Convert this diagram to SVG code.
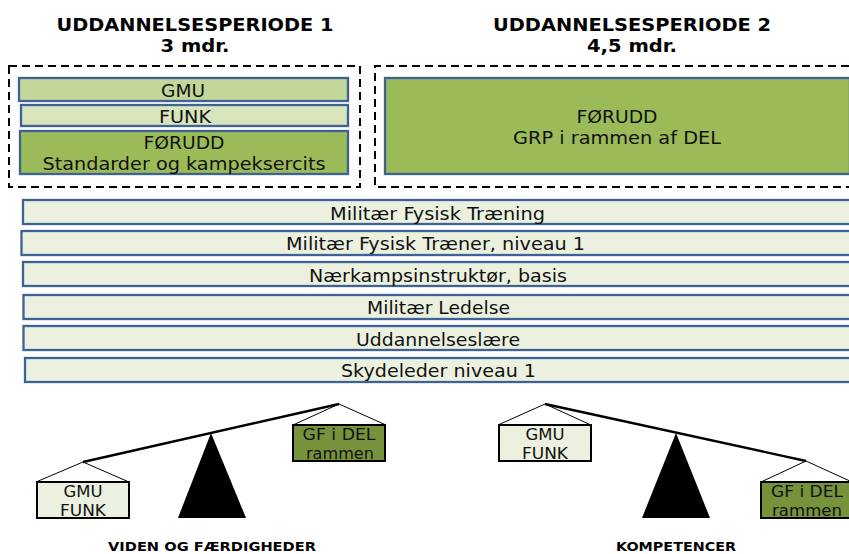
<svg xmlns="http://www.w3.org/2000/svg" width="849" height="554" viewBox="0 0 849 554">
<style>
text{font-family:"DejaVu Sans",Verdana,sans-serif;text-anchor:middle;fill:#111}
.h{font-size:18px;font-weight:bold;fill:#000}
.f{font-size:12.800px;font-weight:bold;fill:#000}
.t{font-size:17.500px}
.s{font-size:15.500px}
.b{stroke:#3f6294;stroke-width:2.300}
.bar{fill:#ebf1de}
.d{fill:none;stroke:#000;stroke-width:2;stroke-dasharray:8 5}
.k{stroke:#000;stroke-width:2}
.w{fill:none;stroke:#000;stroke-width:1}
.beam{stroke:#000;stroke-width:2.400;fill:none}
</style>
<g id="headings">
<text class="h" x="195" y="31" textLength="277" lengthAdjust="spacingAndGlyphs">UDDANNELSESPERIODE 1</text>
<text class="h" x="195" y="52" textLength="69" lengthAdjust="spacingAndGlyphs">3 mdr.</text>
<text class="h" x="632" y="31" textLength="278" lengthAdjust="spacingAndGlyphs">UDDANNELSESPERIODE 2</text>
<text class="h" x="632" y="52" textLength="90" lengthAdjust="spacingAndGlyphs">4,5 mdr.</text>
</g>
<g id="period1"><rect class="d" x="9" y="66" width="351" height="121"/></g>
<g id="period2"><path class="d" d="M849 66H375V187H849"/></g>
<g id="gmu"><rect class="b" x="19" y="78" width="329" height="23" fill="#c4d79b"/><text class="t" x="183" y="97" textLength="44" lengthAdjust="spacingAndGlyphs">GMU</text></g>
<g id="funk"><rect class="b" x="21" y="105" width="327" height="21" fill="#d8e4bc"/><text class="t" x="185" y="123" textLength="52" lengthAdjust="spacingAndGlyphs">FUNK</text></g>
<g id="forudd1"><rect class="b" x="20" y="131" width="328" height="43" fill="#9bbb59"/><text class="t" x="184" y="149" textLength="81" lengthAdjust="spacingAndGlyphs">FØRUDD</text><text class="t" x="184" y="170" textLength="283" lengthAdjust="spacingAndGlyphs">Standarder og kampeksercits</text></g>
<g id="forudd2"><rect class="b" x="385" y="78" width="465" height="96" fill="#9bbb59"/><text class="t" x="617" y="123" textLength="81" lengthAdjust="spacingAndGlyphs">FØRUDD</text><text class="t" x="617" y="144" textLength="208" lengthAdjust="spacingAndGlyphs">GRP i rammen af DEL</text></g>
<g id="bar1"><rect class="b bar" x="23" y="200" width="830" height="24"/><text class="t" x="437.500" y="220" textLength="215" lengthAdjust="spacingAndGlyphs">Militær Fysisk Træning</text></g>
<g id="bar2"><rect class="b bar" x="21.500" y="231" width="830" height="24"/><text class="t" x="435.500" y="250" textLength="299" lengthAdjust="spacingAndGlyphs">Militær Fysisk Træner, niveau 1</text></g>
<g id="bar3"><rect class="b bar" x="23" y="262" width="830" height="24"/><text class="t" x="438" y="282" textLength="258" lengthAdjust="spacingAndGlyphs">Nærkampsinstruktør, basis</text></g>
<g id="bar4"><rect class="b bar" x="23.500" y="295" width="830" height="24"/><text class="t" x="438.500" y="314" textLength="143" lengthAdjust="spacingAndGlyphs">Militær Ledelse</text></g>
<g id="bar5"><rect class="b bar" x="23.500" y="326" width="830" height="24"/><text class="t" x="438" y="346" textLength="164" lengthAdjust="spacingAndGlyphs">Uddannelseslære</text></g>
<g id="bar6"><rect class="b bar" x="25" y="358" width="830" height="24"/><text class="t" x="438.500" y="377" textLength="195" lengthAdjust="spacingAndGlyphs">Skydeleder niveau 1</text></g>
<g id="connectors">
<path class="beam" d="M83 462L339 404"/><path class="beam" d="M545 404L806 461"/>
<path class="w" d="M36 482L83 462L129 482"/><path class="w" d="M293 425L339 404L386 425"/>
<path class="w" d="M498 425L545 404L591 425"/><path class="w" d="M761 482L806 461L852 482"/>
</g>
<g id="fulcrum1"><path d="M211 433L246 518H178Z"/></g>
<g id="fulcrum2"><path d="M676 433L710 518H642Z"/></g>
<g id="box-left"><rect class="k" x="37" y="482" width="92" height="36" fill="#ebf1de"/><text class="s" x="83" y="497" textLength="39" lengthAdjust="spacingAndGlyphs">GMU</text><text class="s" x="83" y="516" textLength="46" lengthAdjust="spacingAndGlyphs">FUNK</text></g>
<g id="box-gf1"><rect class="k" x="293" y="425" width="92" height="36" fill="#76933c"/><text class="s" x="339" y="440" textLength="73" lengthAdjust="spacingAndGlyphs">GF i DEL</text><text class="s" x="340" y="459" textLength="68" lengthAdjust="spacingAndGlyphs">rammen</text></g>
<g id="box-right"><rect class="k" x="499" y="425" width="92" height="36" fill="#ebf1de"/><text class="s" x="545" y="440" textLength="39" lengthAdjust="spacingAndGlyphs">GMU</text><text class="s" x="545" y="459" textLength="46" lengthAdjust="spacingAndGlyphs">FUNK</text></g>
<g id="box-gf2"><rect class="k" x="761" y="482" width="92" height="36" fill="#76933c"/><text class="s" x="807" y="497" textLength="72" lengthAdjust="spacingAndGlyphs">GF i DEL</text><text class="s" x="807" y="516" textLength="70" lengthAdjust="spacingAndGlyphs">rammen</text></g>
<g id="captions">
<text class="f" x="212" y="551" textLength="208" lengthAdjust="spacingAndGlyphs">VIDEN OG FÆRDIGHEDER</text>
<text class="f" x="676" y="551" textLength="120" lengthAdjust="spacingAndGlyphs">KOMPETENCER</text>
</g>
</svg>
